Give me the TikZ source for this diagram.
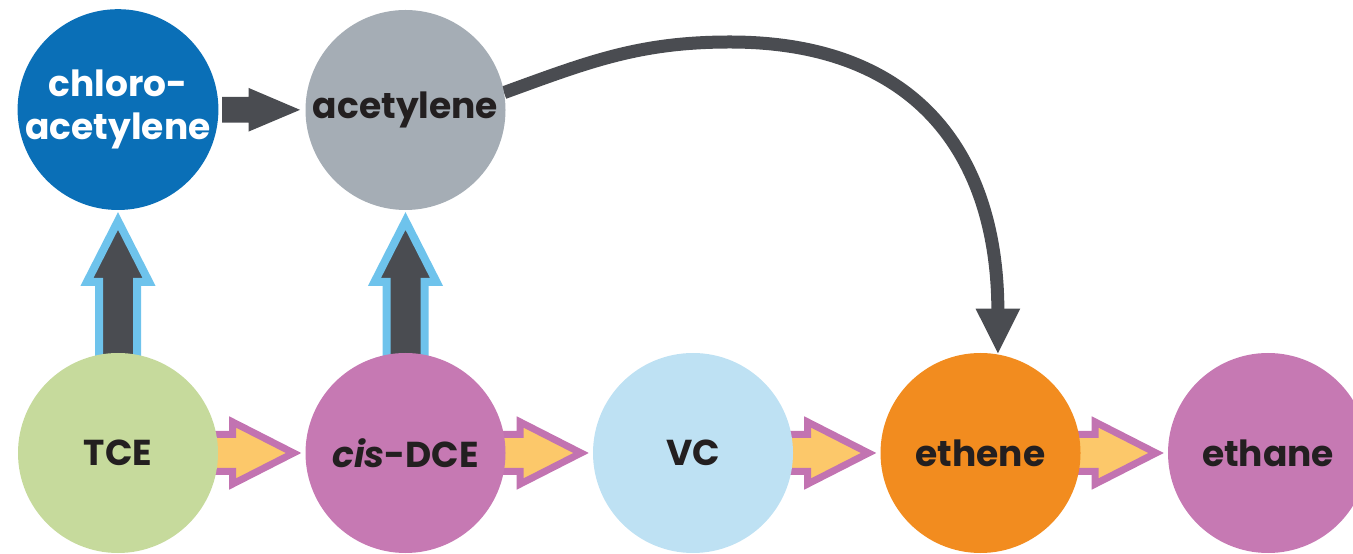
\documentclass[tikz,border=0pt]{standalone}
\usepackage{fontspec}
\setmainfont{Poppins}
\usetikzlibrary{positioning}
\usetikzlibrary{shapes.arrows}
\usetikzlibrary{arrows.meta}
\usetikzlibrary{backgrounds}

\definecolor{chlorblue}{HTML}{0A6FB7}
\definecolor{acetgray}{HTML}{A5ADB5}
\definecolor{tcegreen}{HTML}{C6DA9C}
\definecolor{dcepink}{HTML}{C679B3}
\definecolor{vcblue}{HTML}{BEE1F3}
\definecolor{etheneorange}{HTML}{F28C1F}
\definecolor{arrowyellow}{HTML}{FCC86A}
\definecolor{arrowpurple}{HTML}{C273B1}
\definecolor{darkslate}{HTML}{4A4C51}
\definecolor{lightsky}{HTML}{6EC3EC}
\definecolor{inkdark}{HTML}{231F20}

\tikzset{
  stage/.style={circle, minimum size=4cm, inner sep=0pt, outer sep=0pt, text=inkdark,
    font=\bfseries\fontsize{20.5}{24.4}\selectfont, align=center},
  fatarrow/.style={single arrow, inner xsep=0pt, outer sep=0pt, anchor=tip, sloped, allow upside down},
  yarrow/.style={fatarrow, fill=arrowyellow, draw=arrowpurple, line width=0.14cm, inner ysep=0.3cm,
    minimum height=1.71cm, single arrow head extend=0.25cm, single arrow tip angle=54},
  barrow/.style={fatarrow, fill=darkslate, draw=lightsky, line width=0.16cm, inner ysep=0.3cm,
    minimum height=2.88cm, single arrow head extend=0.24cm, single arrow tip angle=54},
  karrow/.style={fatarrow, fill=darkslate, inner ysep=0.25cm, minimum height=1.56cm,
    single arrow head extend=0.18cm, single arrow tip angle=46}
}

\begin{document}
\begin{tikzpicture}
\useasboundingbox (0,0) rectangle (27.06,11.06);

\node[stage, fill=tcegreen] (TCE) at (2.36,2.0) {TCE};
\node[stage, fill=dcepink, right=1.75cm of TCE] (DCE) {\textit{cis}-DCE};
\node[stage, fill=vcblue, right=1.75cm of DCE] (VC) {VC};
\node[stage, fill=etheneorange, right=1.75cm of VC] (ethene) {ethene};
\node[stage, fill=dcepink, right=1.75cm of ethene] (ethane) {ethane};
\node[stage, fill=chlorblue, text=white, above=2.86cm of TCE] (chloro) {chloro-\\acetylene};
\node[stage, fill=acetgray, above=2.86cm of DCE] (acet) {acetylene};
\coordinate (arcTop) at (14.6,10.22);

\begin{scope}[on background layer]
\path (TCE) -- (DCE) node[yarrow, pos=0.863] {};
\path (DCE) -- (VC) node[yarrow, pos=0.863] {};
\path (VC) -- (ethene) node[yarrow, pos=0.863] {};
\path (ethene) -- (ethane) node[yarrow, pos=0.863] {};
\path (TCE) -- (chloro) node[barrow, pos=0.923] {};
\path (DCE) -- (acet) node[barrow, pos=0.923] {};
\path (chloro) -- (acet) node[karrow, pos=0.937] {};
\draw[darkslate, line width=0.26cm, -{Triangle[width=0.82cm, length=0.92cm]}]
  (acet.10) to[out=20, in=180] (arcTop) to[out=0, in=90, looseness=1.2] (ethene.80);
\end{scope}

\end{tikzpicture}
\end{document}
